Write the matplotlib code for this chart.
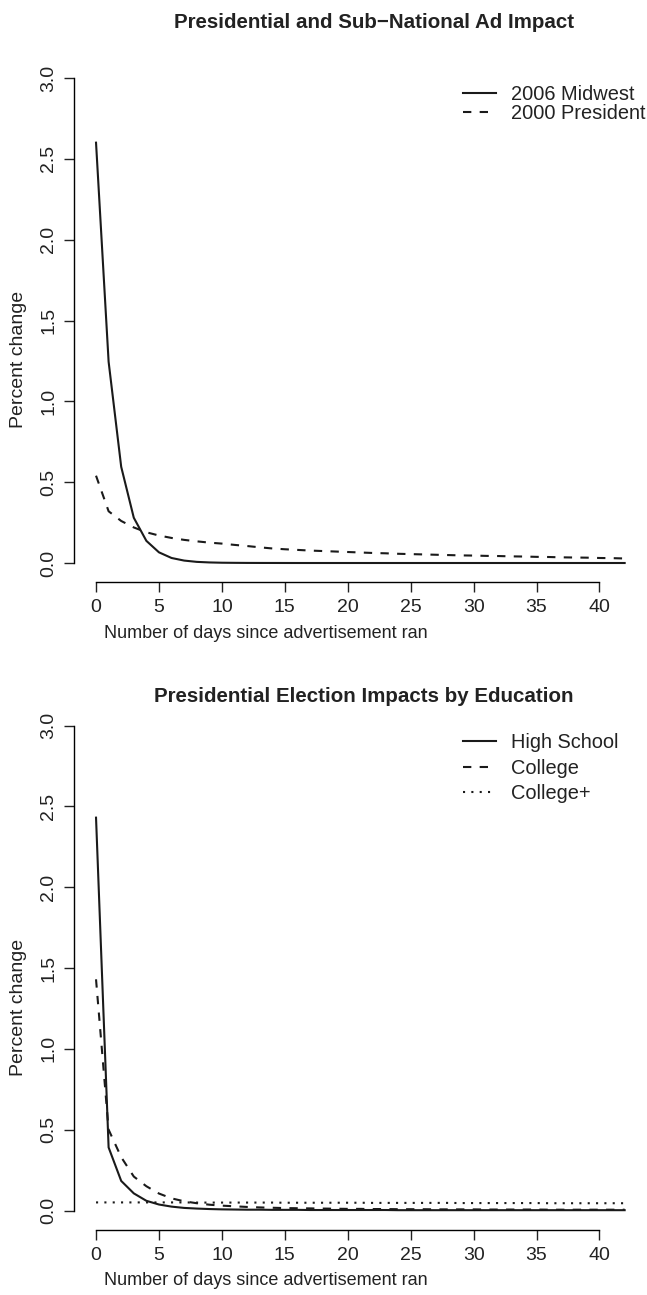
import matplotlib
matplotlib.use("Agg")
import matplotlib.pyplot as plt

plt.rcParams['font.family'] = ['Liberation Sans', 'DejaVu Sans']

# Days since the ad ran
days = list(range(43))

# Top panel: Presidential vs sub-national
midwest_2006 = [2.60, 1.245, 0.595, 0.28, 0.137, 0.066, 0.031, 0.015, 0.007, 0.0035,
                0.0017, 0.001, 0.0005, 0.0003, 0.0002, 0.0001, 0, 0, 0, 0,
                0, 0, 0, 0, 0, 0, 0, 0, 0, 0,
                0, 0, 0, 0, 0, 0, 0, 0, 0, 0,
                0, 0, 0]
president_2000 = [0.54, 0.32, 0.26, 0.22, 0.19, 0.17, 0.155, 0.143, 0.134, 0.126,
                  0.12, 0.112, 0.105, 0.097, 0.09, 0.085, 0.081, 0.077, 0.074, 0.071,
                  0.068, 0.065, 0.062, 0.06, 0.057, 0.055, 0.053, 0.051, 0.049, 0.047,
                  0.046, 0.044, 0.043, 0.041, 0.04, 0.038, 0.037, 0.035, 0.034, 0.033,
                  0.031, 0.03, 0.028]

# Bottom panel: by education
high_school = [2.43, 0.39, 0.183, 0.106, 0.06, 0.037, 0.024, 0.016, 0.012, 0.009,
               0.007, 0.006, 0.005, 0.005, 0.004, 0.004, 0.004, 0.003, 0.003, 0.003,
               0.003, 0.003, 0.003, 0.003, 0.002, 0.002, 0.002, 0.002, 0.002, 0.002,
               0.002, 0.002, 0.002, 0.002, 0.002, 0.002, 0.002, 0.002, 0.002, 0.002,
               0.002, 0.002, 0.002]
college = [1.43, 0.50, 0.33, 0.21, 0.15, 0.105, 0.075, 0.057, 0.045, 0.036,
           0.03, 0.026, 0.022, 0.019, 0.017, 0.015, 0.014, 0.013, 0.012, 0.011,
           0.010, 0.010, 0.009, 0.009, 0.008, 0.008, 0.008, 0.007, 0.007, 0.007,
           0.007, 0.006, 0.006, 0.006, 0.006, 0.006, 0.005, 0.005, 0.005, 0.005,
           0.005, 0.005, 0.005]
college_plus = [0.050, 0.050, 0.050, 0.050, 0.050, 0.050, 0.050, 0.050, 0.049, 0.049,
                0.049, 0.049, 0.049, 0.049, 0.049, 0.048, 0.048, 0.048, 0.048, 0.048,
                0.048, 0.048, 0.047, 0.047, 0.047, 0.047, 0.047, 0.047, 0.047, 0.046,
                0.046, 0.046, 0.046, 0.046, 0.046, 0.046, 0.045, 0.045, 0.045, 0.045,
                0.045, 0.045, 0.045]

x_ticks = [0, 5, 10, 15, 20, 25, 30, 35, 40]
y_ticks = [0.0, 0.5, 1.0, 1.5, 2.0, 2.5, 3.0]

W, H = 647, 1295
fig = plt.figure(figsize=(W / 100, H / 100), dpi=100)

DASH = (0, (4, 4))
DOT = (0, (1, 3))
INK = '#222222'


def r_axes(top_px, bottom_px, title, title_x, title_y):
    # plot region in pixel coords; extends past the right edge like the original crop
    left_px, right_px = 74, 675
    ax = fig.add_axes([left_px / W, 1 - bottom_px / H,
                       (right_px - left_px) / W, (bottom_px - top_px) / H])
    ax.set_xlim(-1.75, 46)
    ax.set_ylim(-0.12, 3.12)
    for s in ['top', 'right']:
        ax.spines[s].set_visible(False)
    ax.spines['left'].set_bounds(0, 3)
    ax.spines['bottom'].set_bounds(0, 40)
    ax.spines['left'].set_linewidth(1)
    ax.spines['bottom'].set_linewidth(1)
    ax.set_xticks(x_ticks)
    ax.set_yticks(y_ticks)
    ax.set_yticklabels([f"{v:.1f}" for v in y_ticks], rotation=90, va='center')
    ax.tick_params(direction='out', length=7, width=1, labelsize=14, pad=5,
                   colors=INK)
    ax.patch.set_visible(False)
    # axis labels placed like the original (offset from the plot centre)
    fig.text(19 / W, 1 - (top_px + 301) / H, "Percent change", rotation=90,
             ha='center', va='center', fontsize=14, color=INK)
    fig.text(266 / W, 1 - (bottom_px + 51) / H,
             "Number of days since advertisement ran",
             ha='center', va='center', fontsize=13, color=INK)
    fig.text(title_x / W, 1 - title_y / H, title, ha='center', va='center',
             fontsize=14.8, fontweight='bold', color=INK)
    return ax


def r_legend(ax, first_row_px, spacing):
    ax.legend(loc='upper left', bbox_to_anchor=(463 / W, 1 - (first_row_px - 11) / H),
              bbox_transform=fig.transFigure, frameon=False, fontsize=14.4,
              handlelength=1.65, handletextpad=0.77, labelspacing=spacing,
              borderpad=0, borderaxespad=0, labelcolor=INK)


ax1 = r_axes(58.6, 582.4, "Presidential and Sub\u2212National Ad Impact", 374, 22)
ax1.plot(days, midwest_2006, color='#1a1a1a', lw=1.5, label='2006 Midwest')
ax1.plot(days, president_2000, color='#1a1a1a', lw=1.5, linestyle=DASH,
         label='2000 President')
r_legend(ax1, 96, 0.02)

ax2 = r_axes(706.1, 1229.9, "Presidential Election Impacts by Education", 364, 697)
ax2.plot(days, high_school, color='#1a1a1a', lw=1.5, label='High School')
ax2.plot(days, college, color='#1a1a1a', lw=1.5, linestyle=DASH, label='College')
ax2.plot(days, college_plus, color='#1a1a1a', lw=1.5, linestyle=DOT, label='College+')
r_legend(ax2, 744, 0.33)

fig.savefig("out.png", dpi=100)
